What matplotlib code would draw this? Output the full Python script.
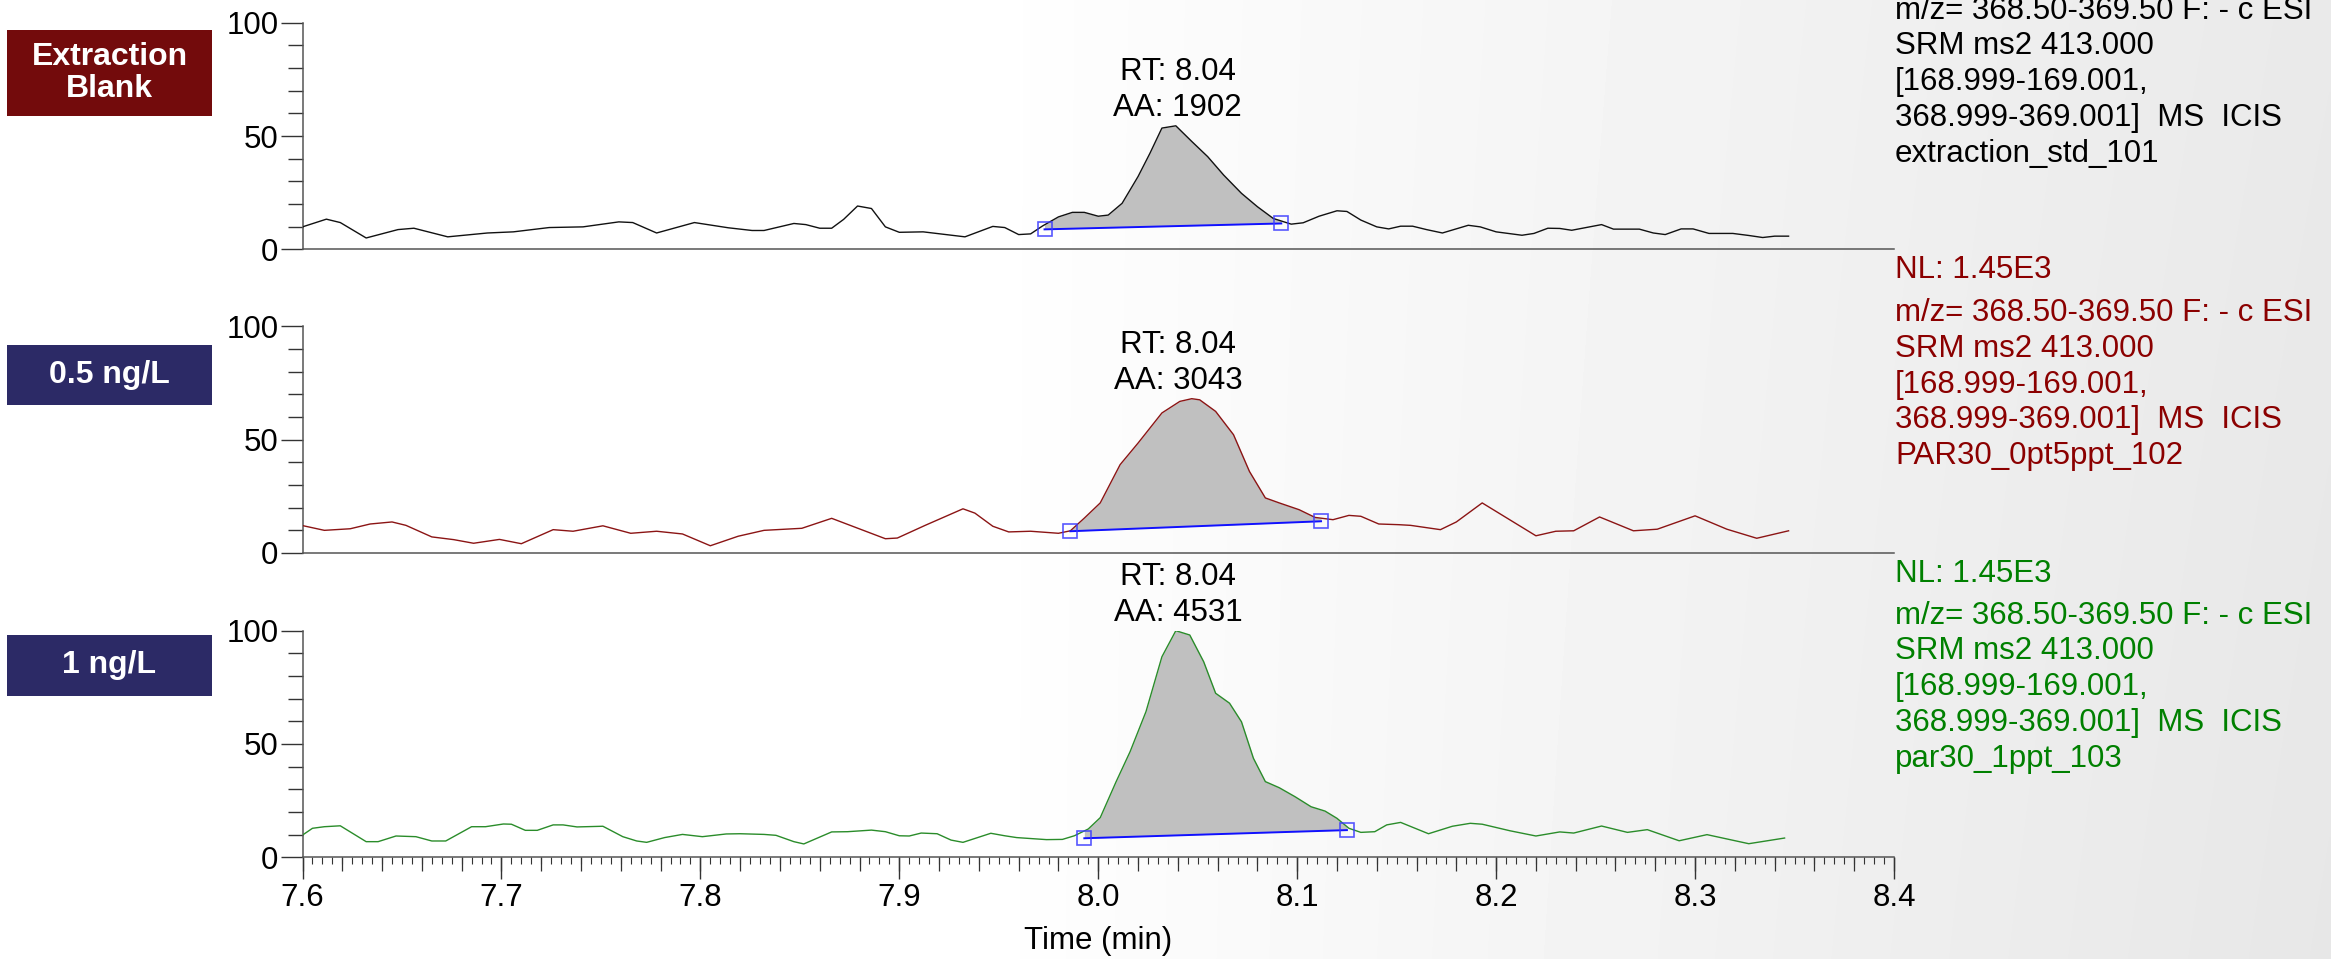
import numpy as np
import matplotlib
matplotlib.use("Agg")
import matplotlib.pyplot as plt
from matplotlib.patches import Rectangle
from matplotlib.ticker import MultipleLocator, FixedLocator, NullFormatter

plt.rcParams['font.family'] = ['Liberation Sans', 'DejaVu Sans']

# retention time (min) and relative abundance (%) of the three SRM traces
blank_t = [7.600, 7.612, 7.619, 7.632, 7.648, 7.656, 7.673, 7.693, 7.706, 7.724, 7.741, 7.759,
           7.766, 7.778, 7.797, 7.814, 7.826, 7.832, 7.847, 7.853, 7.860, 7.866,
           7.872, 7.879, 7.886, 7.893, 7.900, 7.912, 7.933, 7.947, 7.953, 7.960,
           7.966, 7.972, 7.980, 7.987, 7.993, 8.000, 8.005, 8.012, 8.020, 8.026,
           8.032, 8.039, 8.047, 8.055, 8.063, 8.072, 8.080, 8.088, 8.097, 8.103,
           8.111, 8.120, 8.125, 8.132, 8.140, 8.146, 8.152, 8.158, 8.165, 8.173,
           8.186, 8.192, 8.200, 8.213, 8.219, 8.226, 8.232, 8.238, 8.253, 8.259,
           8.272, 8.279, 8.285, 8.293, 8.299, 8.307, 8.319, 8.327, 8.334, 8.340, 8.347]
blank_y = [9.9, 13.3, 11.8, 5.0, 8.7, 9.3, 5.5, 7.2, 7.7, 9.6, 9.9, 12.1,
           11.8, 7.2, 11.8, 9.5, 8.3, 8.3, 11.4, 10.9, 9.3, 9.3,
           13.2, 19.1, 18.0, 9.9, 7.5, 7.7, 5.5, 10.1, 9.6, 6.5,
           6.8, 10.3, 14.3, 16.3, 16.3, 14.6, 15.1, 20.3, 32.1, 42.4,
           53.5, 54.5, 47.6, 40.9, 32.8, 24.7, 18.8, 13.6, 11.1, 11.7,
           14.6, 17.0, 16.7, 12.9, 9.9, 9.0, 10.2, 10.2, 8.7, 7.2,
           10.6, 9.9, 7.7, 6.2, 7.0, 9.3, 9.2, 8.4, 10.9, 8.9,
           8.9, 7.2, 6.5, 9.0, 9.0, 7.0, 7.0, 6.1, 5.2, 5.8, 5.8]

half_t = [7.600, 7.611, 7.624, 7.634, 7.645, 7.652, 7.665, 7.676, 7.686, 7.699, 7.710,
          7.726, 7.736, 7.751, 7.765, 7.778, 7.791, 7.805, 7.819, 7.832, 7.851,
          7.866, 7.893, 7.899, 7.913, 7.932, 7.938, 7.947, 7.955, 7.966, 7.980,
          7.986, 7.993, 8.001, 8.011, 8.020, 8.032, 8.041, 8.047, 8.051, 8.059,
          8.068, 8.076, 8.084, 8.091, 8.101, 8.109, 8.118, 8.126, 8.132, 8.141,
          8.151, 8.157, 8.172, 8.180, 8.193, 8.220, 8.230, 8.239, 8.252, 8.269,
          8.281, 8.300, 8.316, 8.331, 8.347]
half_y = [12.1, 10.0, 10.7, 12.8, 13.7, 12.2, 7.1, 5.9, 4.3, 6.0, 4.1,
          10.3, 9.6, 12.0, 8.7, 9.6, 8.4, 3.2, 7.4, 10.0, 10.9,
          15.3, 6.3, 6.6, 12.2, 19.5, 17.6, 11.8, 9.3, 9.6, 8.7,
          9.8, 15.4, 22.1, 39.0, 48.5, 61.8, 66.9, 68.1, 67.6, 62.5,
          52.2, 36.0, 24.3, 22.1, 19.1, 15.7, 14.7, 16.6, 16.2, 12.8,
          12.5, 12.2, 10.3, 13.7, 22.1, 7.6, 9.6, 9.8, 15.9, 9.8,
          10.5, 16.4, 10.5, 6.5, 9.8]

one_t = [7.600, 7.605, 7.611, 7.619, 7.632, 7.638, 7.647, 7.657, 7.665, 7.672,
         7.685, 7.692, 7.701, 7.705, 7.712, 7.718, 7.726, 7.731, 7.738, 7.751,
         7.761, 7.768, 7.773, 7.782, 7.791, 7.801, 7.813, 7.820, 7.832, 7.838,
         7.847, 7.852, 7.866, 7.874, 7.886, 7.893, 7.900, 7.905, 7.911, 7.919,
         7.926, 7.932, 7.946, 7.953, 7.959, 7.974, 7.982, 7.988, 7.995, 8.001,
         8.009, 8.016, 8.024, 8.032, 8.039, 8.046, 8.053, 8.059, 8.066, 8.072,
         8.078, 8.084, 8.091, 8.099, 8.107, 8.114, 8.120, 8.126, 8.132, 8.139,
         8.145, 8.152, 8.166, 8.178, 8.187, 8.193, 8.207, 8.220, 8.232, 8.239,
         8.253, 8.266, 8.276, 8.292, 8.306, 8.327, 8.345]
one_y = [9.8, 12.8, 13.5, 13.9, 6.9, 6.9, 9.4, 9.1, 7.2, 7.2,
         13.5, 13.5, 14.7, 14.6, 11.9, 11.9, 14.3, 14.3, 13.4, 13.7,
         9.1, 7.2, 6.6, 8.7, 10.1, 9.1, 10.3, 10.4, 10.1, 9.7,
         6.9, 5.9, 11.2, 11.3, 12.0, 11.3, 9.5, 9.4, 10.7, 10.4,
         7.6, 6.6, 10.6, 9.5, 8.7, 7.8, 7.9, 9.5, 12.5, 17.5,
         33.4, 46.6, 64.3, 88.5, 100.0, 98.1, 86.3, 72.4, 68.0, 59.8,
         43.7, 33.4, 30.7, 26.7, 22.3, 20.4, 17.2, 12.8, 11.0, 11.3,
         14.3, 15.4, 10.4, 13.7, 15.0, 14.6, 11.7, 9.4, 11.2, 10.7,
         13.8, 11.0, 12.2, 7.3, 10.0, 6.0, 8.5]

# integration baselines: (start time, start level, end time, end level)
blank_base = [7.973, 8.8, 8.092, 11.4]
half_base = [7.986, 9.6, 8.112, 14.0]
one_base = [7.993, 8.4, 8.125, 12.0]

rt_values = [8.04, 8.04, 8.04]
area_values = [1902, 3043, 4531]

sample_labels = ["Extraction\nBlank", "0.5 ng/L", "1 ng/L"]
label_colors = ["#730b0c", "#2c2a66", "#2c2a66"]
trace_colors = ["#111111", "#8b1414", "#2a8c2a"]
text_colors = ["#000000", "#8b0000", "#008000"]
file_names = ["extraction_std_101", "PAR30_0pt5ppt_102", "par30_1ppt_103"]
norm_level = "NL: 1.45E3"
scan_header = ("m/z= 368.50-369.50 F: - c ESI\nSRM ms2 413.000\n[168.999-169.001,\n"
               "368.999-369.001]  MS  ICIS")

W, H = 2331, 959
FS = 22.5
fig = plt.figure(figsize=(W / 100, H / 100), dpi=100)
fig.patch.set_facecolor("white")

# soft grey wash towards the right side of the slide
bg = fig.add_axes([0, 0, 1, 1], zorder=-10)
gx = np.linspace(0, 1, 600)
gy = np.linspace(0, 1, 200)
GX, GY = np.meshgrid(gx, gy)
ramp = np.clip((GX - 0.42) / 0.58, 0, 1)
shade = 1 - 0.085 * ramp ** 0.9 - 0.01 * ramp * GY
bg.imshow(shade, cmap="gray", vmin=0, vmax=1, aspect="auto", extent=[0, 1, 0, 1],
          interpolation="bilinear")
bg.axis("off")

left = 302.5 / W
width = (1894 - 302.5) / W
height = 226.6 / H
bottoms = [1 - 249.3 / H, 1 - 553.0 / H, 1 - 857.3 / H]

traces = [(blank_t, blank_y, blank_base), (half_t, half_y, half_base), (one_t, one_y, one_base)]
axis_grey = "#555555"

for i, (t, y, base) in enumerate(traces):
    ax = fig.add_axes([left, bottoms[i], width, height])
    ax.set_facecolor("none")
    t = np.asarray(t)
    y = np.asarray(y)

    # shaded peak area between trace and baseline
    x0, b0, x1, b1 = base
    inside = (t > x0) & (t < x1)
    xs = np.concatenate([[x0], t[inside], [x1]])
    ys = np.interp(xs, t, y)
    bs = np.interp(xs, [x0, x1], [b0, b1])
    ax.fill_between(xs, ys, bs, color="#c0c0c0", lw=0, zorder=1)
    ax.plot(t, y, color=trace_colors[i], lw=1.0, zorder=3)
    ax.plot([x0, x1], [b0, b1], color="#1010ff", lw=1.4, zorder=4)
    ax.plot([x0, x1], [b0, b1], ls="none", marker="s", ms=10.5, mfc="none",
            mec="#3a3aff", mew=1.2, alpha=0.85, zorder=5)

    ax.annotate(f"RT: {rt_values[i]:.2f}\nAA: {area_values[i]}",
                xy=(rt_values[i], y.max()), xytext=(0, 3), textcoords="offset pixels",
                ha="center", va="bottom", fontsize=FS, linespacing=1.25,
                annotation_clip=False)

    ax.set_xlim(7.6, 8.4)
    ax.set_ylim(0, 100)
    for s in ["top", "right"]:
        ax.spines[s].set_visible(False)
    for s in ["left", "bottom"]:
        ax.spines[s].set_color(axis_grey)
        ax.spines[s].set_linewidth(1.1)
    ax.yaxis.set_major_locator(FixedLocator([0, 50, 100]))
    ax.yaxis.set_minor_locator(MultipleLocator(10))
    ax.tick_params(axis="y", which="major", length=15.8, width=1.0, color="#333333",
                   pad=1.5, labelsize=FS)
    ax.tick_params(axis="y", which="minor", length=10.8, width=1.0, color="#333333")

    if i < 2:
        ax.tick_params(axis="x", which="both", bottom=False, labelbottom=False)
    else:
        ax.xaxis.set_major_locator(MultipleLocator(0.1))
        ax.xaxis.set_major_formatter(plt.FuncFormatter(lambda v, p: f"{v:.1f}"))
        ax.xaxis.set_minor_locator(MultipleLocator(0.005))
        ax.tick_params(axis="x", which="major", length=15.8, width=1.0, color="#333333",
                       pad=3, labelsize=FS)
        ax.tick_params(axis="x", which="minor", length=5, width=0.8, color="#333333")
        mid = ax.secondary_xaxis("bottom")
        mid.xaxis.set_major_locator(MultipleLocator(0.02))
        mid.xaxis.set_major_formatter(NullFormatter())
        mid.tick_params(axis="x", length=10, width=0.9, color="#333333")
        mid.spines["bottom"].set_visible(False)
        ax.set_xlabel("Time (min)", fontsize=FS, labelpad=9)

# sample name tags on the left
tag_boxes = [(7, 30, 212, 116), (7, 345, 212, 405), (7, 635, 212, 696)]
for (xa, ya, xb, yb), lab, col in zip(tag_boxes, sample_labels, label_colors):
    fig.add_artist(Rectangle((xa / W, 1 - yb / H), (xb - xa) / W, (yb - ya) / H,
                             transform=fig.transFigure, facecolor=col, edgecolor="none"))
    fig.text((xa + xb) / 2 / W, 1 - (ya + yb) / 2 / H, lab, color="white",
             fontsize=23, fontweight="bold", ha="center", va="center", linespacing=1.1)

# scan descriptions on the right (positions are the baselines of the last line)
tx = 1895 / W
block_base = [161.7, 464.0, 766.5]
nl_base = [None, 278, 581.7]
for i in range(3):
    if nl_base[i] is not None:
        fig.text(tx, 1 - nl_base[i] / H, norm_level, color=text_colors[i], fontsize=FS,
                 va="baseline", ha="left")
    fig.text(tx, 1 - block_base[i] / H, scan_header + "\n" + file_names[i],
             color=text_colors[i], fontsize=FS, va="baseline", ha="left", linespacing=1.25)

fig.savefig("out.png", dpi=100)
